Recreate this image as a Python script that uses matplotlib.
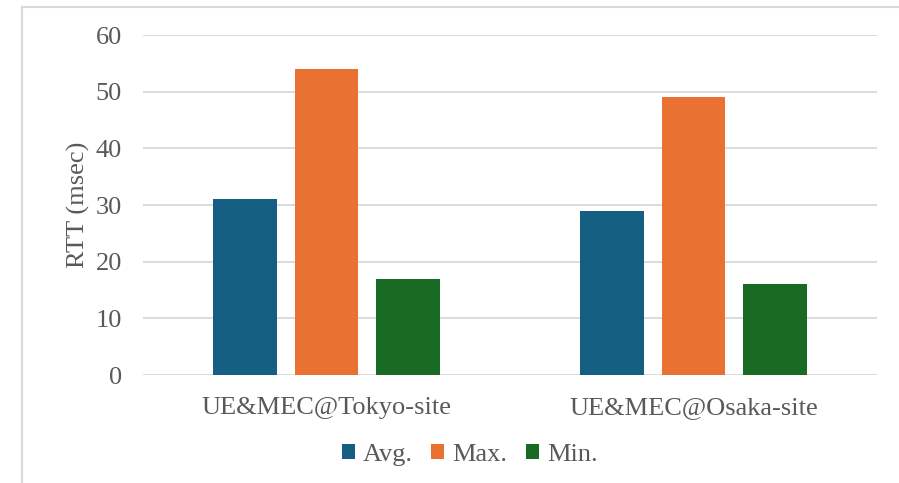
import matplotlib.pyplot as plt
import numpy as np
from matplotlib.lines import Line2D

plt.rcParams['font.family'] = ['Liberation Serif', 'DejaVu Serif']

sites = ['UE&MEC@Tokyo-site', 'UE&MEC@Osaka-site']
series = ['Avg.', 'Max.', 'Min.']
avg_rtt = [31, 29]
max_rtt = [54, 49]
min_rtt = [17, 16]
yticks = [0, 10, 20, 30, 40, 50, 60]

colors = ['#156082', '#E97132', '#196B24']
text_color = '#595959'
grid_color = '#D9D9D9'
fs = 19

fig = plt.figure(figsize=(8.99, 4.83), dpi=100)
ax = fig.add_axes([0.159, 0.2236, 0.8165, 0.7039])

x = np.arange(len(sites))
width = 0.174
offset = 0.223
for i, (vals, name) in enumerate(zip([avg_rtt, max_rtt, min_rtt], series)):
    ax.bar(x + (i - 1) * offset, vals, width, color=colors[i], label=name, zorder=3)

ax.set_xlim(-0.5, 1.5)
ax.set_ylim(0, 60)
ax.set_yticks(yticks)
ax.set_xticks(x)
ax.set_xticklabels(sites)
ax.yaxis.grid(True, color=grid_color, linewidth=1.3, zorder=0)
for s in ax.spines.values():
    s.set_visible(False)
ax.tick_params(axis='both', length=0, labelsize=fs, colors=text_color)
ax.tick_params(axis='y', pad=15)
ax.tick_params(axis='x', pad=16)
ax.set_ylabel('RTT (msec)', fontsize=fs, color=text_color, labelpad=4)

leg = ax.legend(loc='center', bbox_to_anchor=(0.445, -0.235), ncol=3, frameon=False,
                fontsize=fs, handlelength=0.5, handleheight=0.5, handletextpad=0.3,
                columnspacing=0.7, labelcolor=text_color)

# light frame around the chart area
fig.add_artist(Line2D([22 / 899, 1], [1 - 7 / 483, 1 - 7 / 483], color=grid_color, linewidth=1.5))
fig.add_artist(Line2D([22 / 899, 22 / 899], [0, 1 - 7 / 483], color=grid_color, linewidth=1.5))

fig.savefig('out.png', dpi=100)
